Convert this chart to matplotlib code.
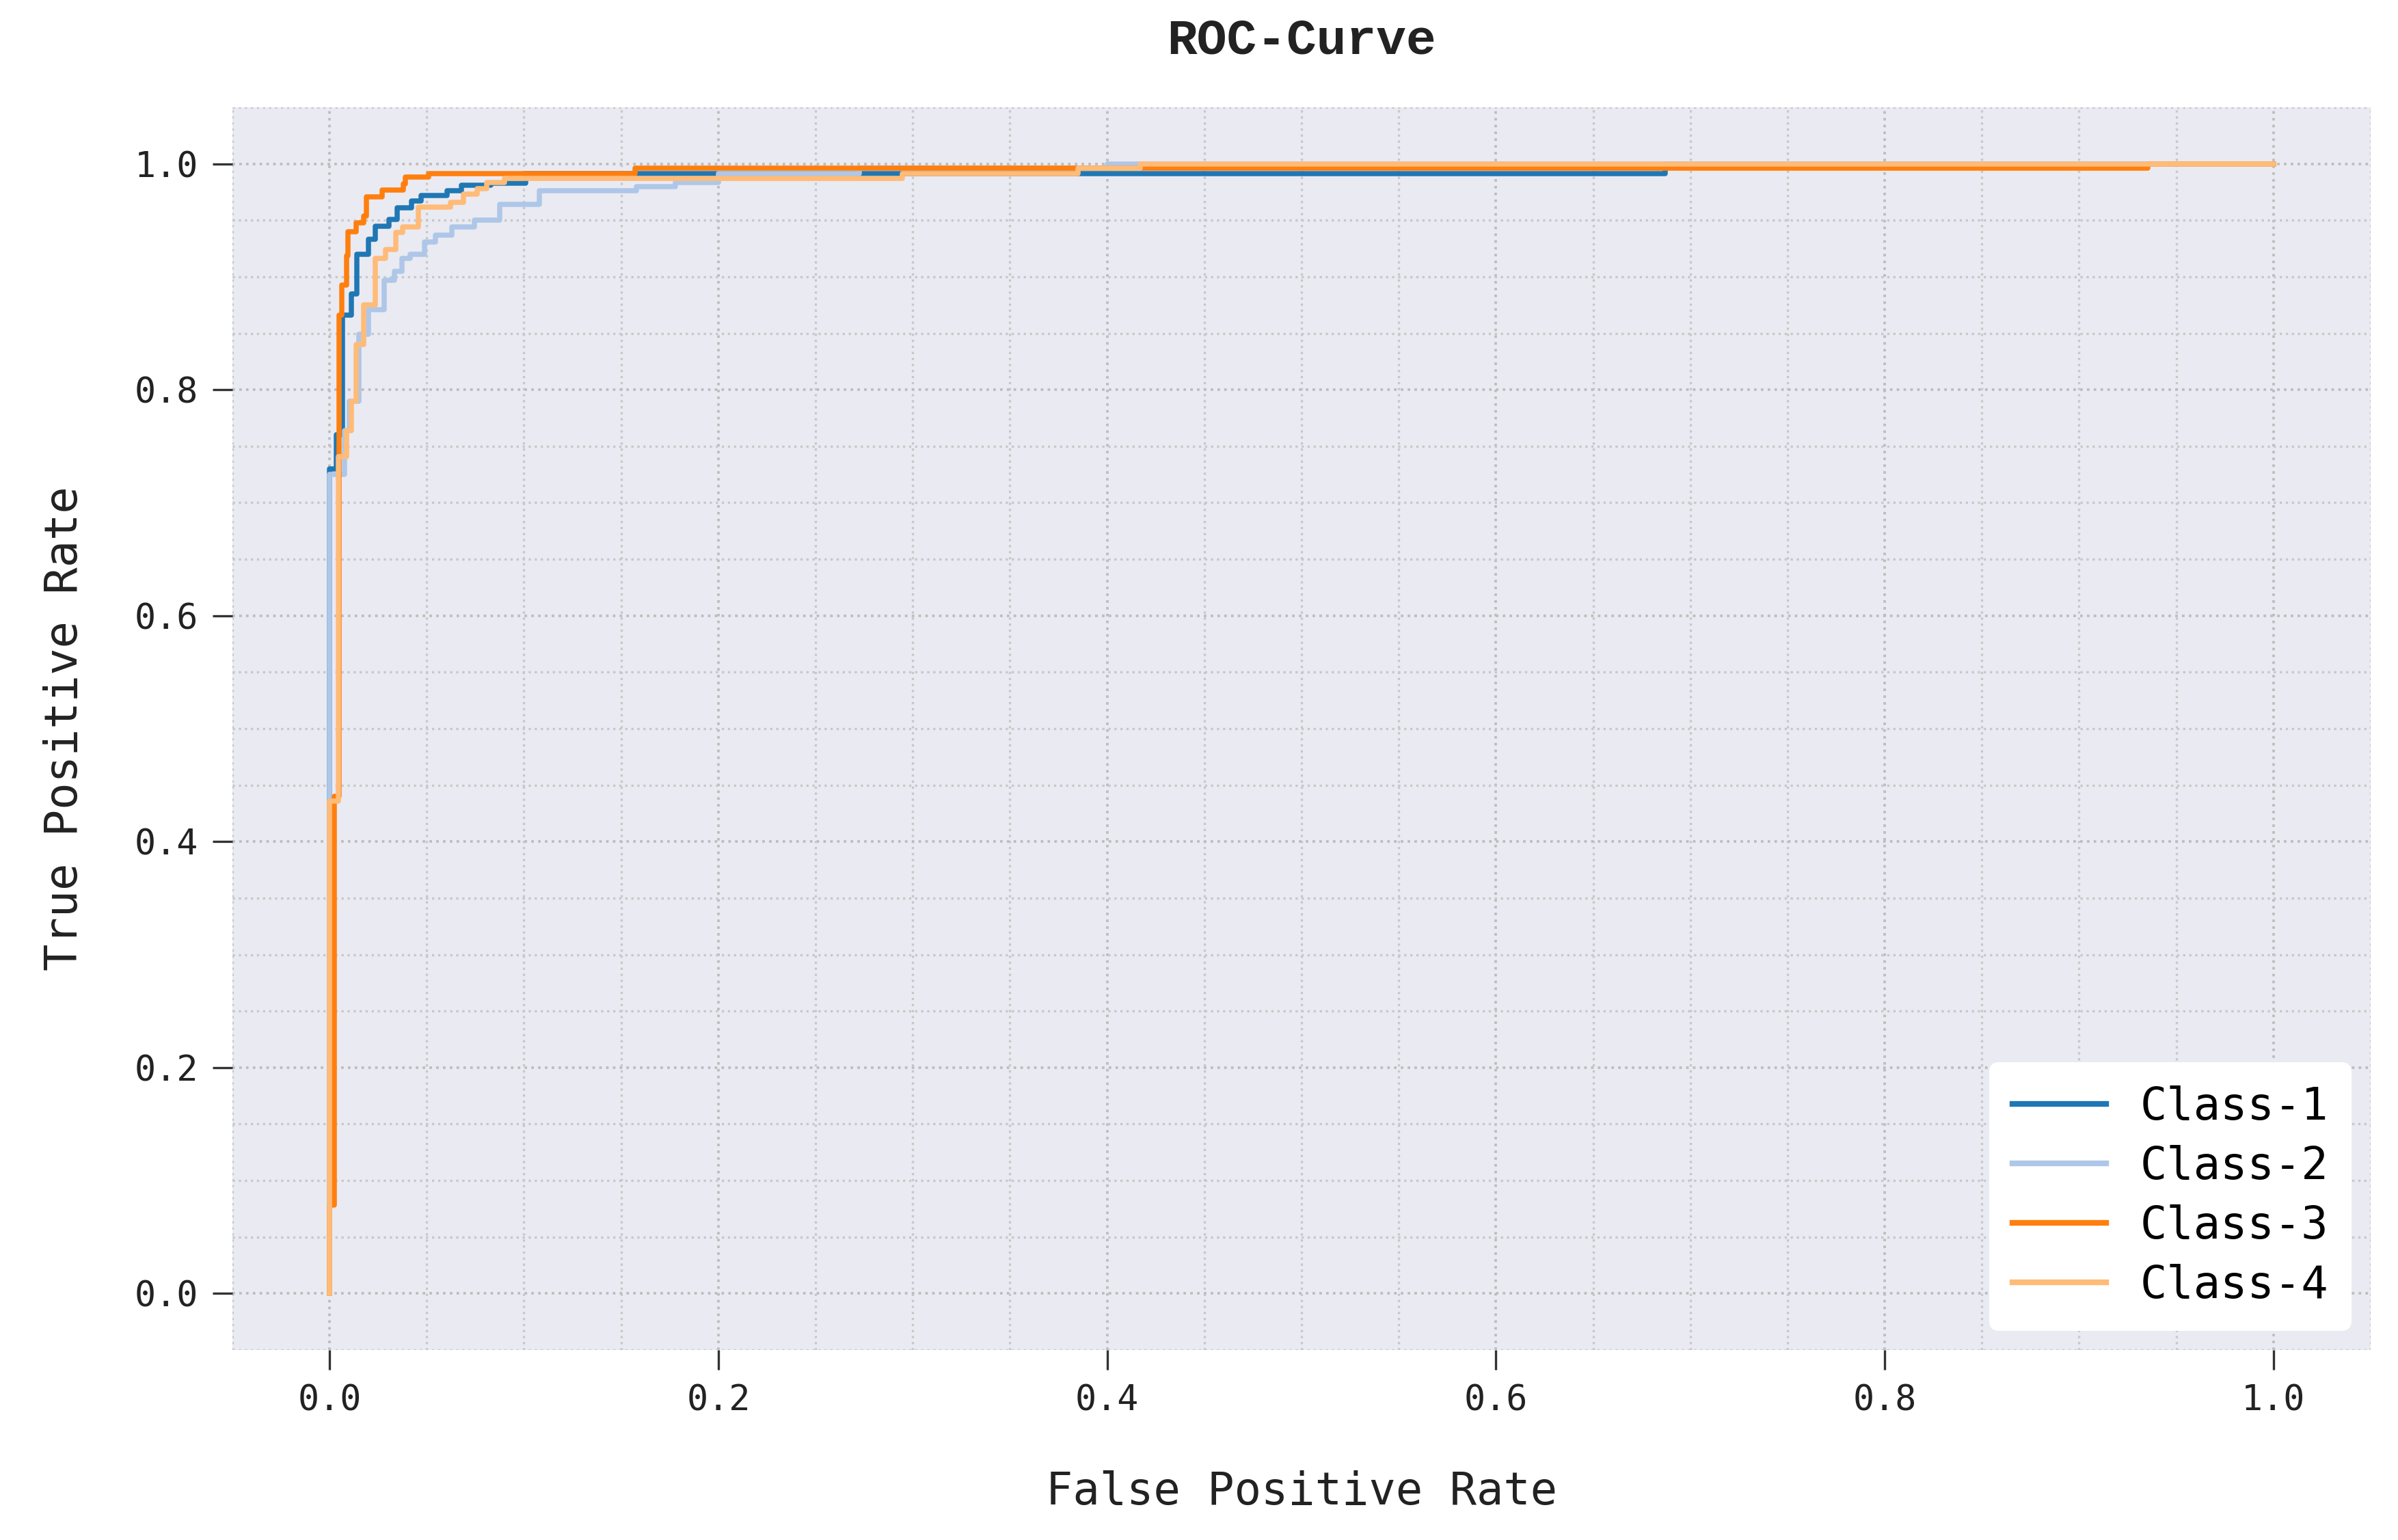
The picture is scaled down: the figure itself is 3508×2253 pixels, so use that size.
import matplotlib
matplotlib.use("Agg")
import matplotlib.pyplot as plt
from matplotlib.ticker import MultipleLocator

# each class: at fpr[i] the curve climbs to tpr[i]
labels = ["Class-1", "Class-2", "Class-3", "Class-4"]
colors = ["#1f77b4", "#aec7e8", "#ff7f0e", "#ffbb78"]

fpr_1 = [0.0, 0.0035, 0.0068, 0.0112, 0.0139, 0.020, 0.0235, 0.0305, 0.0346,
         0.042, 0.047, 0.0604, 0.068, 0.083, 0.101, 0.687, 1.0]
tpr_1 = [0.73, 0.76, 0.866, 0.885, 0.920, 0.933, 0.945, 0.951, 0.961,
         0.967, 0.972, 0.976, 0.981, 0.9827, 0.9914, 1.0, 1.0]

fpr_2 = [0.0, 0.0077, 0.0100, 0.0152, 0.020, 0.028, 0.0333, 0.0374, 0.0415,
         0.049, 0.0546, 0.0628, 0.0745, 0.0874, 0.108, 0.158, 0.178, 0.200,
         0.2726, 0.40, 1.0]
tpr_2 = [0.725, 0.764, 0.79, 0.849, 0.871, 0.897, 0.905, 0.916, 0.920,
         0.931, 0.937, 0.944, 0.950, 0.964, 0.9763, 0.980, 0.9833, 0.9914,
         0.9964, 1.0, 1.0]

fpr_3 = [0.0, 0.0025, 0.0050, 0.0063, 0.0088, 0.0094, 0.0136, 0.0176, 0.0188,
         0.027, 0.038, 0.039, 0.051, 0.157, 0.9355, 1.0]
tpr_3 = [0.078, 0.44, 0.866, 0.893, 0.919, 0.940, 0.948, 0.954, 0.971,
         0.977, 0.9825, 0.9885, 0.9914, 0.9964, 1.0, 1.0]

fpr_4 = [0.0, 0.0046, 0.0088, 0.0112, 0.0136, 0.0176, 0.0235, 0.0288, 0.034,
         0.0375, 0.0457, 0.0621, 0.069, 0.076, 0.081, 0.090, 0.2947, 0.385,
         0.417, 1.0]
tpr_4 = [0.436, 0.741, 0.764, 0.79, 0.84, 0.875, 0.916, 0.924, 0.939,
         0.944, 0.9614, 0.966, 0.9734, 0.978, 0.9833, 0.987, 0.9914, 0.9964,
         1.0, 1.0]

curves = [(fpr_1, tpr_1), (fpr_2, tpr_2), (fpr_3, tpr_3), (fpr_4, tpr_4)]

mono = ["DejaVu Sans Mono"]

fig = plt.figure(figsize=(3508 / 300, 2253 / 300), dpi=300)
ax = fig.add_axes([0.0969, 0.1234, 0.8917, 0.8069])
ax.set_facecolor("#EAEAF2")
for s in ax.spines.values():
    s.set_visible(False)

for (fx, ty), lab, c in zip(curves, labels, colors):
    ax.plot([0.0] + fx, [0.0] + ty, drawstyle="steps-post", color=c, lw=1.8, label=lab)

ax.set_xlim(-0.05, 1.05)
ax.set_ylim(-0.05, 1.05)
ax.xaxis.set_major_locator(MultipleLocator(0.2))
ax.yaxis.set_major_locator(MultipleLocator(0.2))
ax.xaxis.set_minor_locator(MultipleLocator(0.05))
ax.yaxis.set_minor_locator(MultipleLocator(0.05))
ax.grid(which="major", linestyle=":", color="#bdbdbd", lw=0.9)
ax.grid(which="minor", linestyle=":", color="#c8c8c8", lw=0.8)
ax.set_axisbelow(True)
ax.tick_params(which="major", direction="out", length=7, width=0.8, color="#333333",
               pad=5, labelsize=12.4, labelcolor="#222222")
ax.tick_params(which="minor", length=0)
for t in ax.get_xticklabels() + ax.get_yticklabels():
    t.set_family(mono)

ax.set_xlabel("False Positive Rate", family=mono, fontsize=15.7, color="#222222")
ax.set_ylabel("True Positive Rate", family=mono, fontsize=15.7, color="#222222")
ax.xaxis.set_label_coords(0.5, -0.097)
ax.yaxis.set_label_coords(-0.068, 0.5)

fig.text(0.5427, 1 - 60 / 2253, "ROC-Curve", family=["Liberation Mono"], weight="bold",
         fontsize=17.5, ha="center", va="center", color="#222222")

leg = ax.legend(loc="lower right", prop={"family": mono, "size": 15.7},
                frameon=True, facecolor="white", edgecolor="white", framealpha=1.0,
                handlelength=2.1, handletextpad=0.75, labelspacing=0.35,
                borderaxespad=0.45, borderpad=0.5)
leg.get_frame().set_linewidth(0.5)
for h in leg.get_lines():
    h.set_linewidth(2.0)

fig.savefig("out.png", dpi=300)
